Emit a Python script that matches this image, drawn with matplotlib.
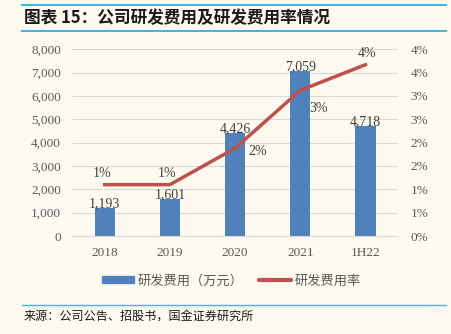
import matplotlib.pyplot as plt
import matplotlib.ticker as mticker
from matplotlib.lines import Line2D
from matplotlib.patches import Patch

plt.rcParams['font.family'] = ['Noto Sans CJK SC', 'DejaVu Sans']

# 数据
categories = ['2018', '2019', '2020', '2021', '1H22']
rd_cost = [1193, 1601, 4426, 7059, 4718]          # 研发费用（万元）
rd_rate = [1.10, 1.10, 1.88, 3.12, 3.67]          # 研发费用率（%）
rate_labels = ['1%', '1%', '2%', '3%', '4%']

bg = '#FEFAF0'
blue = '#4F81BD'
red = '#C0504D'
grey = '#595959'
serif = 'Liberation Serif'

fig = plt.figure(figsize=(4.51, 3.34), dpi=100, facecolor=bg)
ax = fig.add_axes([0.16, 0.2934, 0.7225, 0.559])
ax.set_facecolor(bg)

x = list(range(len(categories)))
ax.bar(x, rd_cost, width=0.31, color=blue, zorder=2)
ax.set_ylim(0, 8000)
ax.set_xlim(-0.5, len(categories) - 0.5)
ax.set_yticks(range(0, 8001, 1000))
ax.yaxis.set_major_formatter(mticker.FuncFormatter(lambda v, p: f'{int(v):,}'))
ax.set_xticks(x)
ax.set_xticklabels(categories)
ax.grid(axis='y', color='#D9D9D9', linewidth=0.8, zorder=0)
for s in ['top', 'right', 'left']:
    ax.spines[s].set_visible(False)
ax.spines['bottom'].set_color('#D9D9D9')
ax.tick_params(length=0, colors=grey, labelsize=9.5, pad=8)
for lab in ax.get_xticklabels() + ax.get_yticklabels():
    lab.set_fontfamily(serif)

for xi, v in zip(x, rd_cost):
    ax.text(xi, v + 190, f'{v:,}', ha='center', va='center', fontsize=10,
            color='#404040', family=serif, zorder=3)

ax2 = ax.twinx()
ax2.plot(x, rd_rate, color=red, linewidth=2.5, zorder=4)
ax2.set_ylim(0, 4)
ax2.set_yticks([i * 0.5 for i in range(9)])
ax2.yaxis.set_major_formatter(
    mticker.FuncFormatter(lambda v, p: f'{int(v + 0.5)}%'))
for s in ['top', 'right', 'left', 'bottom']:
    ax2.spines[s].set_visible(False)
ax2.tick_params(length=0, colors=grey, labelsize=9.5, pad=9)
for lab in ax2.get_yticklabels():
    lab.set_fontfamily(serif)

# 折线标签
offsets = [(-2, 8), (-2, 8), (16, -2), (13, -13), (1, 8)]
for xi, v, lab, off in zip(x, rd_rate, rate_labels, offsets):
    ax2.annotate(lab, (xi, v), xytext=off, textcoords='offset points',
                 ha='center', va='center', fontsize=10, color='#404040',
                 family=serif)

# 标题与分隔线
fig.add_artist(Line2D([22 / 451, 446 / 451], [1 - 5 / 334] * 2,
                      color='#41B6E6', linewidth=1.5))
fig.add_artist(Line2D([22 / 451, 446 / 451], [1 - 31 / 334] * 2,
                      color='#41B6E6', linewidth=1.5))
fig.add_artist(Line2D([22 / 451, 446 / 451], [1 - 305 / 334] * 2,
                      color='#41B6E6', linewidth=1))
fig.text(24 / 451, 1 - 18 / 334, '图表 15：公司研发费用及研发费用率情况',
         fontsize=12, fontweight='bold', color='#1A1A1A', va='center',
         style='italic')

handles = [Patch(color=blue), Line2D([0], [0], color=red, linewidth=3,
                                     solid_capstyle='round')]
fig.legend(handles, ['研发费用（万元）', '研发费用率'], loc='center',
           bbox_to_anchor=(0.514, 1 - 281 / 334), ncol=2, frameon=False,
           fontsize=9.5, handlelength=2.4, handleheight=0.45,
           handletextpad=0.3, columnspacing=1.15, labelcolor=grey)

fig.text(24 / 451, 1 - 316 / 334, '来源：公司公告、招股书，国金证券研究所',
         fontsize=8.7, color='#1A1A1A', va='center')

fig.savefig('out.png', dpi=100, facecolor=bg)
